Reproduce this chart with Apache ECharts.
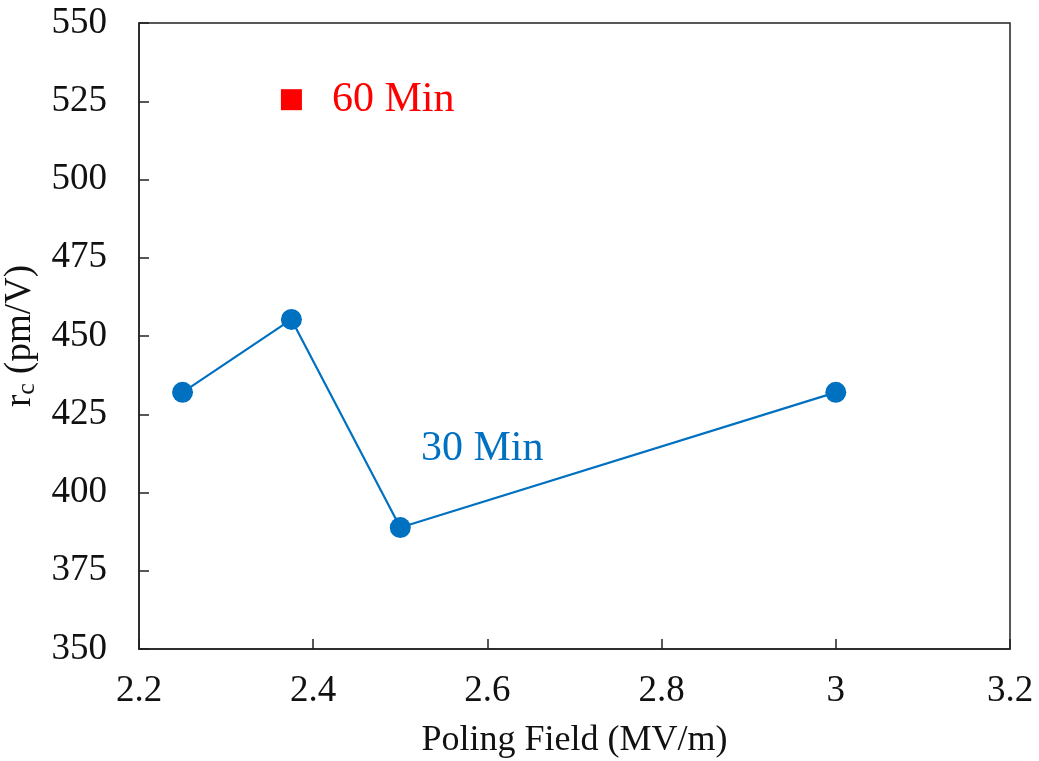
<!DOCTYPE html>
<html><head><meta charset="utf-8">
<script src="https://cdn.jsdelivr.net/npm/echarts@6/dist/echarts.min.js"></script>
<style>html,body{margin:0;padding:0;background:#fff}#c{width:1039px;height:761px}</style>
</head><body><div id="c"></div>
<script>
const field30 = [2.25, 2.375, 2.5, 3.0];
const rc30 = [432, 455.3, 388.8, 432];
const field60 = [2.375];
const rc60 = [525.5];
const label30 = '30 Min';
const label30Pos = [2.594, 414];
const label60 = '60 Min';
const xTicks = [2.2, 2.4, 2.6, 2.8, 3, 3.2];
const yTicks = [350, 375, 400, 425, 450, 475, 500, 525, 550];

const font = "'Liberation Serif', 'Times New Roman', serif";
const chart = echarts.init(document.getElementById('c'));
chart.setOption({
  animation: false,
  grid: {left: 139, right: 29, top: 23, bottom: 112, outerBoundsMode: 'none', containLabel: false,
    show: true, borderColor: '#222', borderWidth: 1.5, backgroundColor: 'transparent'},
  xAxis: {
    type: 'value', min: 2.2, max: 3.2, interval: 0.2,
    name: 'Poling Field (MV/m)', nameLocation: 'middle', nameGap: 74,
    nameTextStyle: {fontFamily: font, fontSize: 36, color: '#111'},
    axisLine: {lineStyle: {color: '#222', width: 1.5}},
    axisTick: {inside: true, length: 10, lineStyle: {color: '#222', width: 1.5}},
    axisLabel: {fontFamily: font, fontSize: 37, color: '#111', margin: 24,
      formatter: v => { const t = xTicks.find(x => Math.abs(x - v) < 1e-6); return t === undefined ? '' : String(t); }},
    splitLine: {show: false}
  },
  yAxis: {
    type: 'value', min: 350, max: 550, interval: 25,
    name: '{a|r}{b|c}{a| (pm/V)}', nameLocation: 'middle', nameGap: 84, nameRotate: 90,
    nameTextStyle: {fontFamily: font, fontSize: 37, color: '#111',
      rich: {a: {fontFamily: font, fontSize: 37, color: '#111'},
             b: {fontFamily: font, fontSize: 26, color: '#111', padding: [14, 0, 0, 0]}}},
    axisLine: {lineStyle: {color: '#222', width: 1.5}},
    axisTick: {inside: true, length: 10, lineStyle: {color: '#222', width: 1.5}},
    axisLabel: {fontFamily: font, fontSize: 37, color: '#111', margin: 32,
      formatter: v => { const t = yTicks.find(y => Math.abs(y - v) < 1e-6); return t === undefined ? '' : String(t); }},
    splitLine: {show: false}
  },
  series: [
    {
      type: 'line', data: field30.map((x, i) => [x, rc30[i]]),
      symbol: 'circle', symbolSize: 21,
      lineStyle: {color: '#0070C0', width: 2.2},
      itemStyle: {color: '#0070C0'},
      markPoint: {
        symbol: 'rect', symbolSize: 1, itemStyle: {color: 'transparent'},
        label: {show: true, position: 'inside', formatter: label30, fontFamily: font, fontSize: 42, color: '#0070C0'},
        data: [{coord: label30Pos}]
      }
    },
    {
      type: 'scatter', data: field60.map((x, i) => [x, rc60[i]]),
      symbol: 'rect', symbolSize: 21,
      itemStyle: {color: '#FF0000', opacity: 1},
      label: {show: true, position: 'right', distance: 30, formatter: label60, fontFamily: font, fontSize: 42, color: '#FF0000'}
    }
  ]
});
</script></body></html>
